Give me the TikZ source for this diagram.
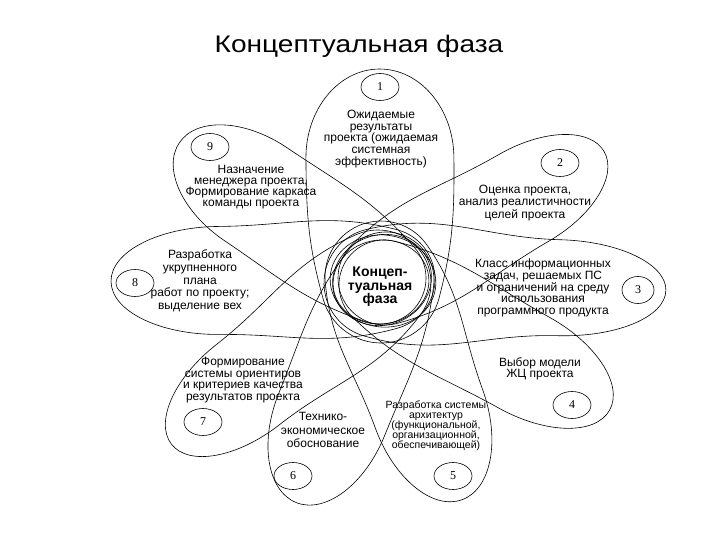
\documentclass[tikz,border=0pt]{standalone}
\usepackage{fontspec}
\usepackage{graphicx}
\setmainfont{Liberation Sans}
\newfontfamily\numfont{Liberation Serif}
\usetikzlibrary{shapes.geometric}
% #1,#2 centre; #3 angle; #4 length; #5 position of widest; #6 half width; #7 inner cap radius
\newcommand\petal[7]{%
 \pgfmathsetmacro\pA{#7*cos(105)}%
 \pgfmathsetmacro\pB{#7*sin(105)}%
 \pgfmathsetmacro\pD{0.4*(#5-\pA)}%
 \pgfmathsetmacro\pC{\pA+\pD*sin(105)}%
 \pgfmathsetmacro\pE{\pB-\pD*cos(105)}%
 \pgfmathsetmacro\pF{#5-\pD}%
 \pgfmathsetmacro\pG{#5+0.552*(#4-#5)}%
 \pgfmathsetmacro\pH{0.552*#6}%
 \draw[petalline, shift={(#1,#2)}, rotate=#3] (\pA,\pB) .. controls (\pC,\pE) and (\pF,#6) .. (#5,#6) .. controls (\pG,#6) and (#4,\pH) .. (#4,0) .. controls (#4,-\pH) and (\pG,-#6) .. (#5,-#6) .. controls (\pF,-#6) and (\pC,-\pE) .. (\pA,-\pB) arc[start angle=-105, end angle=-255, radius=#7];
}
\begin{document}
\begin{tikzpicture}[x=1pt,y=-1pt,
  petalline/.style={draw=black, line width=0.6pt},
  numcirc/.style={draw, ellipse, line width=0.6pt, minimum width=38pt, minimum height=27pt, inner sep=0pt, font=\numfont\fontsize{12}{12}\selectfont},
  lbl/.style={align=center, inner sep=0pt},
]
\fill[white] (0,0) rectangle (720,540);
\useasboundingbox (0,0) rectangle (720,540);
\coordinate (C) at (382,281);

\node[anchor=base] (title) at (359,53) {\scalebox{1.17}[1]{\fontsize{24}{24}\selectfont Концептуальная фаза}};

\petal{381}{283}{90.5}{214}{125}{74}{60}
\petal{385}{278}{30}{253}{160}{50}{47}
\petal{379}{283}{-1.5}{287}{180}{48}{55}
\petal{384}{285}{-29}{258}{160}{52}{45}
\petal{381}{277}{-70}{237}{140}{57}{56}
\petal{386}{280}{-112}{240}{145}{57}{48}
\petal{378}{283}{-142}{262}{165}{51}{53}
\petal{384}{279}{180.5}{273}{165}{54}{51}
\petal{380}{278}{146}{242}{150}{56}{46}

\draw[petalline, rotate around={-8:(383,281)}] (383,281) ellipse[x radius=53, y radius=46];
\draw[petalline, rotate around={7:(381,282)}] (381,282) ellipse[x radius=48, y radius=42];
\draw[petalline, rotate around={20:(382,280)}] (382,280) ellipse[x radius=50, y radius=45];

\node[numcirc] (n1) at (380,87) {1};
\node[numcirc] (n2) at (560,163) {2};
\node[numcirc, minimum width=32pt] (n3) at (638,290) {3};
\node[numcirc] (n4) at (572,405) {4};
\node[numcirc] (n5) at (453,476) {5};
\node[numcirc] (n6) at (293,476) {6};
\node[numcirc] (n7) at (203,422) {7};
\node[numcirc] (n8) at (135,283) {8};
\node[numcirc] (n9) at (210,147) {9};

\node[lbl, font=\fontsize{12}{11.8}\selectfont] (t1) at (381,139) {Ожидаемые\\результаты\\проекта (ожидаемая\\системная\\эффективность)};
\node[lbl, font=\fontsize{12}{11}\selectfont] (t9) at (251,187) {Назначение\\менеджера проекта,\\Формирование каркаса\\команды проекта};
\node[lbl, font=\fontsize{12}{12.5}\selectfont] (t2) at (525,203) {Оценка проекта,\\анализ реалистичности\\целей проекта};
\node[lbl, font=\fontsize{12}{12.7}\selectfont] (t8) at (200,281) {Разработка\\укрупненного\\плана\\работ по проекту;\\выделение вех};
\node[lbl, font=\fontsize{12}{11.3}\selectfont] (t3) at (543,288) {Класс информационных\\задач, решаемых ПС\\и ограничений на среду\\использования\\программного продукта};
\node[lbl, font=\fontsize{12}{11.5}\selectfont] (t4) at (540,369) {Выбор модели\\ЖЦ проекта};
\node[lbl, font=\fontsize{12}{11.7}\selectfont] (t7) at (243,380) {Формирование\\системы ориентиров\\и критериев качества\\результатов проекта};
\node[lbl, font=\fontsize{12}{13.5}\selectfont] (t6) at (323,430) {Технико-\\экономическое\\обоснование};
\node[lbl, font=\fontsize{10.5}{10}\selectfont] (t5) at (436,426) {Разработка системы\\архитектур\\(функциональной,\\организационной,\\обеспечивающей)};
\node[lbl, font=\bfseries\fontsize{14}{13.5}\selectfont] (tc) at (380,287) {Концеп-\\туальная\\фаза};
\end{tikzpicture}
\end{document}
